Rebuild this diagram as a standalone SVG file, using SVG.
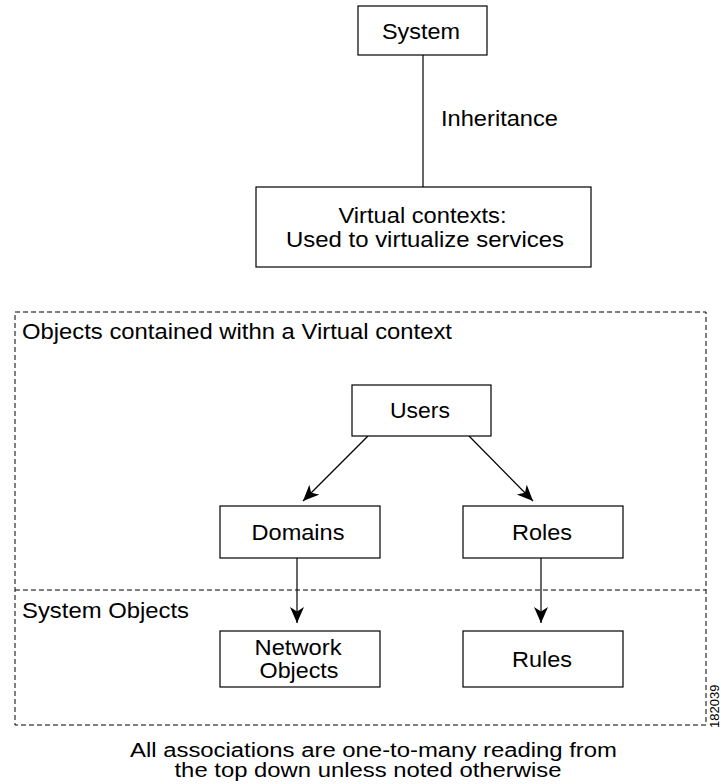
<svg xmlns="http://www.w3.org/2000/svg" width="721" height="784" viewBox="0 0 721 784">
<style>
  .box { fill: #ffffff; stroke: #000000; stroke-width: 1.2; }
  .dash { fill: none; stroke: #000000; stroke-width: 1; stroke-dasharray: 5 3; }
  .conn { fill: none; stroke: #000000; stroke-width: 1.2; }
  text { font-family: "Liberation Sans", Arial, Helvetica, sans-serif; font-size: 21.5px; fill: #000000; }
  .c { text-anchor: middle; }
  .cap { font-size: 19.5px; }
  .small { font-size: 13px; }
</style>
<defs>
  <marker id="arrow" markerUnits="userSpaceOnUse" markerWidth="18" markerHeight="16" refX="16" refY="7" orient="auto">
    <path d="M0,0 L16,7 L0,14 L4.5,7 Z" fill="#000000"/>
  </marker>
</defs>
<rect width="721" height="784" fill="#ffffff"/>

<g id="container-virtual">
  <rect class="dash" x="15" y="312" width="691" height="413"/>
  <line class="dash" x1="15" y1="590" x2="706" y2="590"/>
  <text x="22" y="339" textLength="430" lengthAdjust="spacingAndGlyphs">Objects contained withn a Virtual context</text>
  <text x="22" y="618" textLength="167" lengthAdjust="spacingAndGlyphs">System Objects</text>
</g>

<g id="connectors">
  <line class="conn" x1="423" y1="55" x2="423" y2="187"/>
  <text x="441" y="126" textLength="117" lengthAdjust="spacingAndGlyphs">Inheritance</text>
  <line class="conn" x1="368" y1="436" x2="303" y2="501" marker-end="url(#arrow)"/>
  <line class="conn" x1="469" y1="436" x2="533" y2="501" marker-end="url(#arrow)"/>
  <line class="conn" x1="297" y1="558" x2="297" y2="623" marker-end="url(#arrow)"/>
  <line class="conn" x1="541" y1="558" x2="541" y2="623" marker-end="url(#arrow)"/>
</g>

<g id="system">
  <rect class="box" x="358" y="6" width="129" height="49"/>
  <text class="c" x="421" y="39" textLength="78" lengthAdjust="spacingAndGlyphs">System</text>
</g>

<g id="virtual-contexts">
  <rect class="box" x="256" y="187" width="335" height="80"/>
  <text class="c" x="422.5" y="223" textLength="168" lengthAdjust="spacingAndGlyphs">Virtual contexts:</text>
  <text class="c" x="425" y="247" textLength="278" lengthAdjust="spacingAndGlyphs">Used to virtualize services</text>
</g>

<g id="users">
  <rect class="box" x="352" y="385" width="139" height="51"/>
  <text class="c" x="420" y="418" textLength="60" lengthAdjust="spacingAndGlyphs">Users</text>
</g>

<g id="domains">
  <rect class="box" x="220" y="506" width="160" height="52"/>
  <text class="c" x="298" y="540" textLength="93" lengthAdjust="spacingAndGlyphs">Domains</text>
</g>

<g id="roles">
  <rect class="box" x="463" y="506" width="160" height="52"/>
  <text class="c" x="542" y="540" textLength="60" lengthAdjust="spacingAndGlyphs">Roles</text>
</g>

<g id="network-objects">
  <rect class="box" x="220" y="631" width="160" height="56"/>
  <text class="c" x="298" y="655" textLength="87" lengthAdjust="spacingAndGlyphs">Network</text>
  <text class="c" x="299" y="678" textLength="79" lengthAdjust="spacingAndGlyphs">Objects</text>
</g>

<g id="rules">
  <rect class="box" x="463" y="631" width="160" height="56"/>
  <text class="c" x="542" y="667" textLength="60" lengthAdjust="spacingAndGlyphs">Rules</text>
</g>

<g id="caption">
  <text class="c cap" x="373.5" y="757" textLength="487" lengthAdjust="spacingAndGlyphs">All associations are one-to-many reading from</text>
  <text class="c cap" x="368" y="777" textLength="387" lengthAdjust="spacingAndGlyphs">the top down unless noted otherwise</text>
  <text class="small" transform="translate(719,728) rotate(-90)">182039</text>
</g>
</svg>
